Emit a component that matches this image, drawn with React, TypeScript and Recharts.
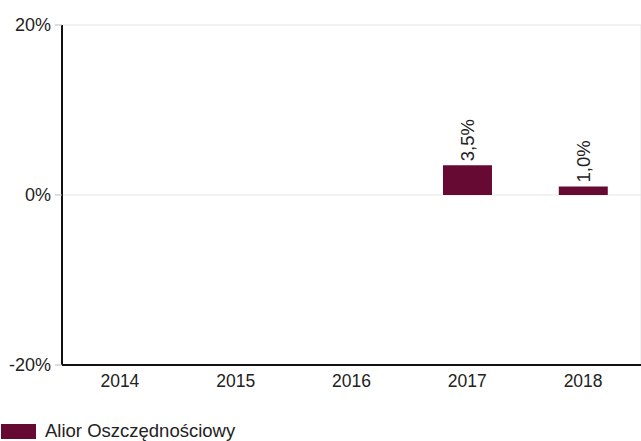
import React from 'react';
import {
  Bar,
  BarChart,
  CartesianGrid,
  LabelList,
  XAxis,
  YAxis,
} from 'recharts';

const years = ['2014', '2015', '2016', '2017', '2018'];
const returns: (number | null)[] = [null, null, null, 3.5, 1.0];
const yTicks = [-20, 0, 20];
const boundaryTicks = [0, 1, 2, 3, 4, 5];
const seriesName = 'Alior Oszczędnościowy';

const data = years.map((year, i) => ({ year, value: returns[i] }));

const FONT = '"Liberation Sans", Arial, sans-serif';
const BAR_COLOR = '#660a34';

const fmtPct = (v: number) => `${v.toFixed(1).replace('.', ',')}%`;

function RotatedLabel(props: any) {
  const { x, y, width, value } = props;
  if (value == null) return null;
  const cx = x + width / 2;
  const ty = y - 4;
  return (
    <text
      x={cx}
      y={ty}
      transform={`rotate(-90, ${cx}, ${ty})`}
      textAnchor="start"
      dominantBaseline="central"
      fontSize={18.5}
      fontFamily={FONT}
      fill="#222"
    >
      {fmtPct(value)}
    </text>
  );
}

export default function App() {
  return (
    <div style={{ position: 'absolute', left: 0, top: 0, width: 641, height: 441, background: '#fff' }}>
      <BarChart
        width={641}
        height={441}
        data={data}
        margin={{ top: 25, right: 0, left: 8, bottom: 46 }}
        barCategoryGap="29%"
      >
        <CartesianGrid xAxisId="grid" stroke="#e6e6e6" strokeWidth={1} />
        <XAxis
          xAxisId="grid"
          type="number"
          domain={[0, 5]}
          ticks={boundaryTicks}
          tick={false}
          axisLine={false}
          tickLine={{ stroke: '#444', strokeWidth: 1 }}
          tickSize={6}
          height={0}
        />
        <XAxis
          xAxisId="cat"
          dataKey="year"
          axisLine={{ stroke: '#111', strokeWidth: 2 }}
          tickLine={false}
          tick={{ fontSize: 17.5, fontFamily: FONT, fill: '#222' }}
          tickMargin={4}
          height={30}
        />
        <YAxis
          domain={[-20, 20]}
          ticks={yTicks}
          tickFormatter={(v: number) => `${v}%`}
          axisLine={{ stroke: '#111', strokeWidth: 2 }}
          tickLine={{ stroke: '#bbb' }}
          tickSize={7}
          tickMargin={4}
          tick={{ fontSize: 18, fontFamily: FONT, fill: '#222' }}
          width={54}
          interval={0}
        />
        <Bar
          xAxisId="cat"
          dataKey="value"
          name={seriesName}
          fill={BAR_COLOR}
          isAnimationActive={false}
        >
          <LabelList dataKey="value" content={<RotatedLabel />} />
        </Bar>
      </BarChart>
      <div
        style={{
          position: 'absolute',
          left: 1,
          top: 421,
          height: 20,
          lineHeight: '20px',
          display: 'flex',
          alignItems: 'center',
          fontFamily: FONT,
          fontSize: 18.5,
          color: '#222',
          whiteSpace: 'nowrap',
        }}
      >
        <span style={{ display: 'inline-block', width: 35, height: 15, background: BAR_COLOR, marginRight: 9 }} />
        <span>{seriesName}</span>
      </div>
    </div>
  );
}
